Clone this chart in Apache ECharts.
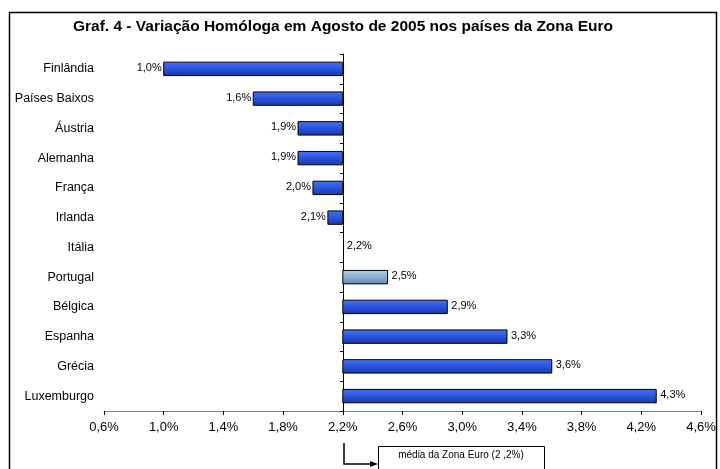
<!DOCTYPE html>
<html>
<head>
<meta charset="utf-8">
<script src="https://cdn.jsdelivr.net/npm/echarts@6/dist/echarts.min.js"></script>
<style>
  html, body { margin: 0; padding: 0; background: #fff; }
  #main { width: 720px; height: 469px; }
</style>
</head>
<body>
<div id="main"></div>
<script>
// dados do gráfico
var paises = ['Finlândia', 'Países Baixos', 'Áustria', 'Alemanha', 'França', 'Irlanda',
              'Itália', 'Portugal', 'Bélgica', 'Espanha', 'Grécia', 'Luxemburgo'];
var variacao = [1.0, 1.6, 1.9, 1.9, 2.0, 2.1, 2.2, 2.5, 2.9, 3.3, 3.6, 4.3];
var mediaZonaEuro = 2.2;
var destaque = 'Portugal';
var eixoX = { min: 0.6, max: 4.6, intervalo: 0.4 };

var fmt = function (v) { return v.toFixed(1).replace('.', ',') + '%'; };

var myChart = echarts.init(document.getElementById('main'));

var dados = variacao.map(function (v, i) { return [v, i]; });

var corAzul = new echarts.graphic.LinearGradient(0, 0, 0, 1, [
  { offset: 0, color: '#4a74f2' }, { offset: 0.5, color: '#2a52de' }, { offset: 1, color: '#1c38a8' }
]);
var corPortugal = new echarts.graphic.LinearGradient(0, 0, 0, 1, [
  { offset: 0, color: '#b4cde6' }, { offset: 0.5, color: '#8fb0d3' }, { offset: 1, color: '#6386ad' }
]);

var option = {
  backgroundColor: '#fff',
  animation: false,
  title: {
    text: 'Graf. 4 - Variação Homóloga em Agosto de 2005 nos países da Zona Euro',
    left: 338, top: 14, textAlign: 'center',
    textStyle: { fontFamily: 'Arial, Liberation Sans', fontWeight: 'bold', fontSize: 15.5, color: '#000' }
  },
  grid: { left: 104, right: 19, top: 54, bottom: 58 },
  xAxis: {
    type: 'value', min: eixoX.min, max: eixoX.max, interval: eixoX.intervalo,
    axisLine: { show: true, lineStyle: { color: '#808080', width: 1 } },
    axisTick: { show: true, length: 4, lineStyle: { color: '#000' } },
    splitLine: { show: false },
    axisLabel: {
      margin: 10, color: '#000', fontFamily: 'Arial, Liberation Sans', fontSize: 13,
      formatter: function (v) { return fmt(v); }
    }
  },
  yAxis: [{
    type: 'category', data: paises, inverse: true,
    axisLine: { show: false }, axisTick: { show: false },
    axisLabel: { margin: 10, color: '#000', fontFamily: 'Arial, Liberation Sans', fontSize: 12.5 }
  }, {
    type: 'category', data: paises, inverse: true, position: 'left',
    offset: -239,
    axisLine: { show: true, lineStyle: { color: '#000', width: 1 } },
    axisTick: { show: true, length: 3, lineStyle: { color: '#000' } },
    axisLabel: { show: false }
  }],
  series: [{
    type: 'custom',
    data: dados,
    encode: { x: 0, y: 1 },
    renderItem: function (params, api) {
      var v = api.value(0), idx = api.value(1);
      var p0 = api.coord([mediaZonaEuro, idx]);
      var p1 = api.coord([v, idx]);
      var h = api.size([0, 1])[1] * 0.45;
      var x0 = Math.min(p0[0], p1[0]), w = Math.abs(p1[0] - p0[0]);
      var neg = v < mediaZonaEuro;
      var filhos = [];
      if (w > 0) {
        filhos.push({
          type: 'rect',
          shape: { x: x0, y: p0[1] - h / 2, width: w, height: h },
          style: { fill: paises[idx] === destaque ? corPortugal : corAzul, stroke: '#000', lineWidth: 1 }
        });
      }
      filhos.push({
        type: 'text',
        x: neg ? p1[0] - 2 : p1[0] + 4,
        y: p0[1] - 1,
        style: {
          text: fmt(v), fill: '#000', font: '11px Arial, Liberation Sans',
          align: neg ? 'right' : 'left', verticalAlign: 'middle'
        }
      });
      return { type: 'group', children: filhos };
    }
  }],
  graphic: [
    { type: 'rect', shape: { x: 9.5, y: 12.5, width: 707, height: 480 },
      style: { fill: null, stroke: '#000', lineWidth: 1.5 }, silent: true },
    { type: 'polyline', shape: { points: [[344, 443], [344, 464], [372, 464]] },
      style: { stroke: '#000', lineWidth: 1.5, fill: null } },
    { type: 'polygon', shape: { points: [[370, 461], [378, 464], [370, 467]] },
      style: { fill: '#000' } },
    { type: 'rect', shape: { x: 378.5, y: 446.5, width: 166, height: 40 },
      style: { fill: '#fff', stroke: '#000', lineWidth: 1 } },
    { type: 'text', x: 461, y: 455,
      style: { text: 'média da Zona Euro (2 ,2%)', font: '10px Arial, Liberation Sans',
               fill: '#000', align: 'center', verticalAlign: 'middle' } }
  ]
};

myChart.setOption(option);
</script>
</body>
</html>
